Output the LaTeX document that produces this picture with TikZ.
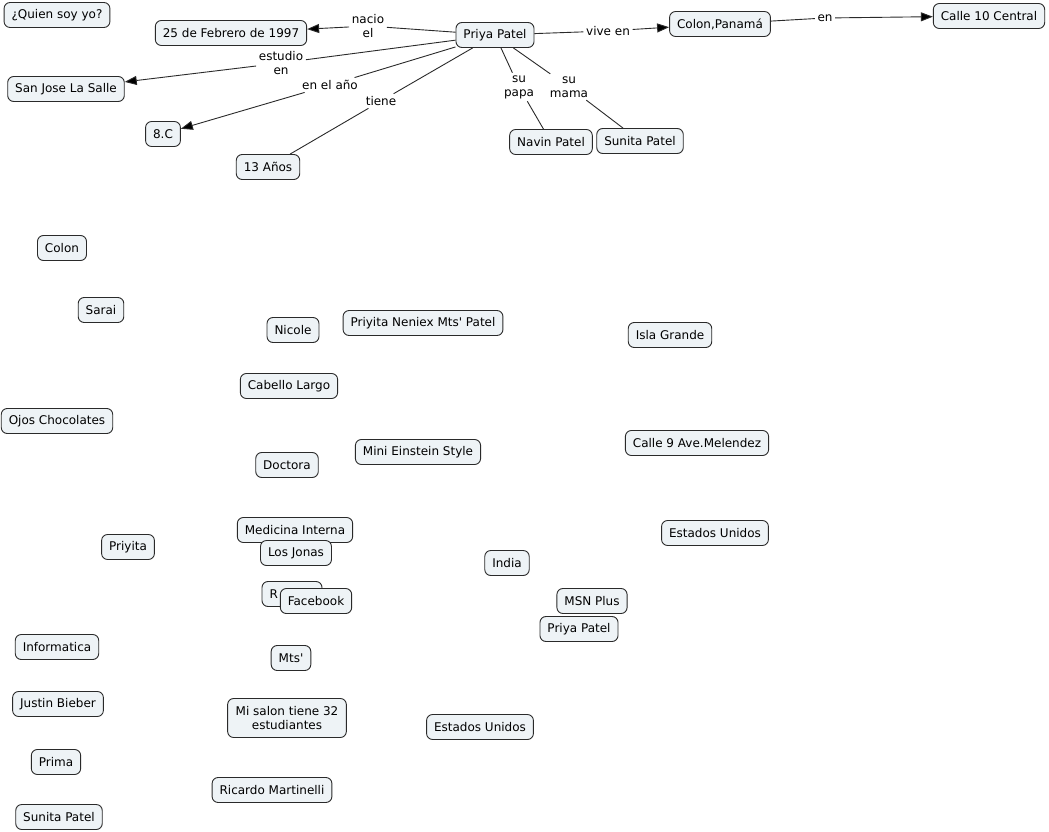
\documentclass[tikz,border=0pt]{standalone}
\usepackage{fontspec}
\setmainfont{DejaVu Sans}
\usetikzlibrary{arrows.meta}
\definecolor{boxfill}{HTML}{EEF3F6}
\definecolor{boxline}{HTML}{2A2A2A}
\begin{document}
\begin{tikzpicture}[x=1pt,y=-1pt,
  box/.style={draw=boxline,fill=boxfill,rounded corners=6pt,line width=0.9pt,
    minimum height=25pt,inner xsep=7.5pt,inner ysep=3pt,align=center,
    font=\fontsize{12}{14}\selectfont},
  lbl/.style={inner sep=2.5pt,align=center,font=\fontsize{12}{14}\selectfont},
  con/.style={draw=boxline,line width=0.9pt},
  arr/.style={con,-{Triangle[length=12pt,width=9pt,fill=black]}}]
\useasboundingbox (0,0) rectangle (1049,832);
% main nodes
\node[box] (quien) at (57,15) {¿Quien soy yo?};
\node[box] (fecha) at (231,33) {25 de Febrero de 1997};
\node[box] (priya) at (495,35) {Priya Patel};
\node[box] (colonp) at (720,24) {Colon,Panamá};
\node[box] (calle10) at (989,16) {Calle 10 Central};
\node[box] (sanjose) at (66,89) {San Jose La Salle};
\node[box] (ochoc) at (163,134) {8.C};
\node[box] (anos) at (268,167) {13 Años};
\node[box] (navin) at (551,142) {Navin Patel};
\node[box] (sunita) at (640,141) {Sunita Patel};
% labels
\node[lbl] (lnacio) at (368,26) {nacio\\el};
\node[lbl] (lestudio) at (281,63) {estudio\\en};
\node[lbl] (lanio) at (330,85) {en el año};
\node[lbl] (ltiene) at (381,101) {tiene};
\node[lbl] (lpapa) at (519,87) {su\\papa};
\node[lbl] (lmama) at (569,87) {su\\mama};
\node[lbl] (lvive) at (608,31) {vive en};
\node[lbl] (len) at (825,18) {en};
% connectors
\draw[con] (priya) -- (lnacio); \draw[arr] (lnacio) -- (fecha);
\draw[con] (priya) -- (lestudio); \draw[arr] (lestudio) -- (sanjose);
\draw[con] (priya) -- (lanio); \draw[arr] (lanio) -- (ochoc);
\draw[con] (priya) -- (ltiene); \draw[con] (ltiene) -- (anos);
\draw[con] (priya) -- (lpapa); \draw[con] (lpapa) -- (navin);
\draw[con] (priya) -- (lmama); \draw[con] (lmama) -- (sunita);
\draw[con] (priya) -- (lvive); \draw[arr] (lvive) -- (colonp);
\draw[con] (colonp) -- (len); \draw[arr] (len) -- (calle10);
% loose nodes
\node[box] (colon) at (62,248) {Colon};
\node[box] (sarai) at (101,310) {Sarai};
\node[box] (nicole) at (293,330) {Nicole};
\node[box] (neniex) at (423,323) {Priyita Neniex Mts\textquotesingle{} Patel};
\node[box] (isla) at (670,335) {Isla Grande};
\node[box] (cabello) at (289,386) {Cabello Largo};
\node[box] (ojos) at (57,421) {Ojos Chocolates};
\node[box] (calle9) at (697,443) {Calle 9 Ave.Melendez};
\node[box] (doctora) at (287,465) {Doctora};
\node[box] (einstein) at (418,452) {Mini Einstein Style};
\node[box] (eeuu1) at (715,533) {Estados Unidos};
\node[box] (medicina) at (295,530) {Medicina Interna};
\node[box] (jonas) at (296,553) {Los Jonas};
\node[box] (priyita) at (128,547) {Priyita};
\node[box] (india) at (507,563) {India};
\node[box,text width=45pt,align=left] (rnode) at (292,594) {R};
\node[box] (facebook) at (316,601) {Facebook};
\node[box] (msn) at (592,601) {MSN Plus};
\node[box] (priya2) at (579,629) {Priya Patel};
\node[box] (informatica) at (57,647) {Informatica};
\node[box] (mts) at (291,658) {Mts\textquotesingle};
\node[box] (justin) at (58,704) {Justin Bieber};
\node[box,minimum height=39pt,inner xsep=8pt] (salon) at (287,718) {Mi salon tiene 32\\estudiantes};
\node[box] (eeuu2) at (480,727) {Estados Unidos};
\node[box] (prima) at (56,762) {Prima};
\node[box] (ricardo) at (272,790) {Ricardo Martinelli};
\node[box] (sunita2) at (59,817) {Sunita Patel};
\end{tikzpicture}
\end{document}
